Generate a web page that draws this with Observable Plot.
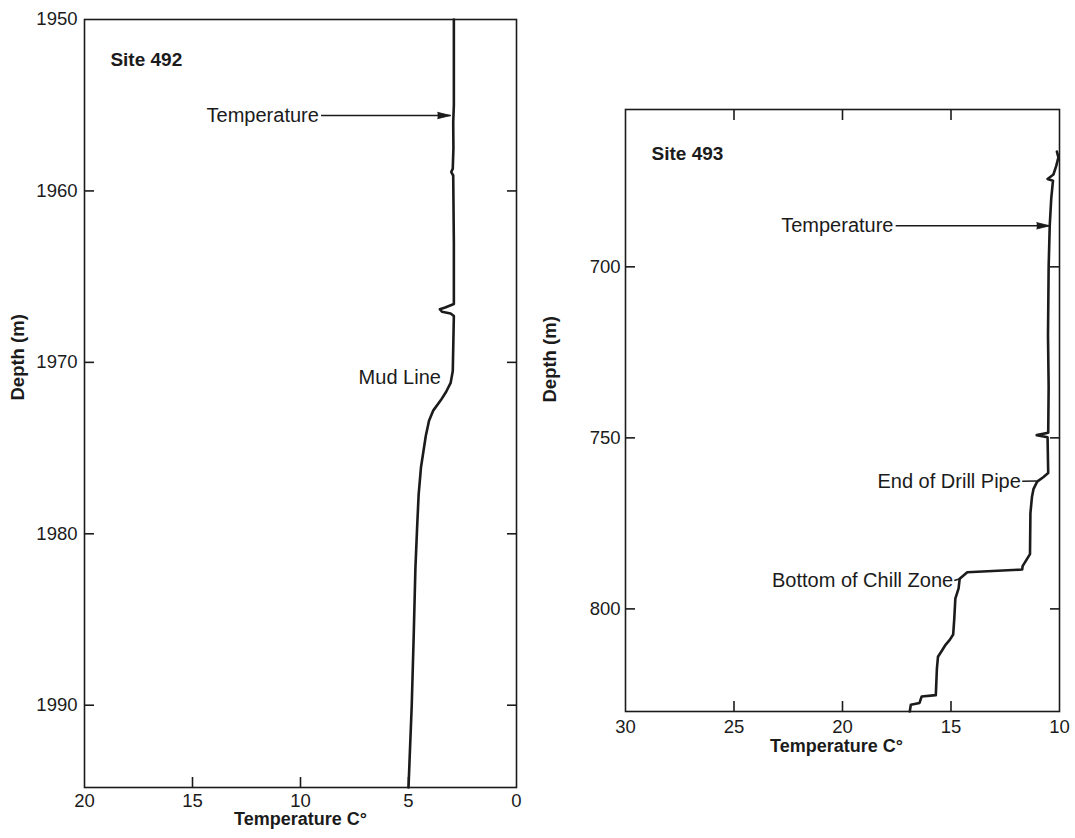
<!DOCTYPE html>
<html><head><meta charset="utf-8">
<script src="https://cdn.jsdelivr.net/npm/d3@7"></script>
<script src="https://cdn.jsdelivr.net/npm/@observablehq/plot@0.6"></script>
<style>
html,body{margin:0;padding:0;background:#fff;}
#wrap{position:relative;width:1075px;height:838px;overflow:hidden;background:#fff;}
#left,#right{position:absolute;top:0;}
#left{left:0;} #right{left:540px;}
</style></head><body><div id="wrap"><div id="left"></div><div id="right"></div></div>
<script>
// ---------- data ----------
// Site 492 temperature log
const site492Depth = [1950, 1955, 1956, 1957.5, 1958.7, 1958.9, 1959.1, 1963, 1966.6, 1966.8, 1966.9, 1967.05, 1967.15, 1967.3, 1970.5, 1971.2, 1971.7, 1972.2, 1972.8, 1973.4, 1974.3, 1976.1, 1977.7, 1979.6, 1982, 1986, 1990, 1994.8];
const site492Temp  = [2.9, 2.9, 2.93, 2.92, 2.95, 3.02, 2.93, 2.9, 2.9, 3.3, 3.55, 3.45, 3.05, 2.9, 2.95, 3.05, 3.25, 3.5, 3.85, 4.05, 4.2, 4.42, 4.53, 4.6, 4.68, 4.76, 4.85, 5.0];
// Site 493 temperature log
const site493Depth = [666.3, 668, 670.5, 673, 674.3, 674.8, 680, 688, 700, 720, 735, 748.5, 749.2, 749.8, 760.3, 761.5, 762.8, 765, 767.3, 772, 784, 787.5, 788.5, 789.3, 791.2, 794, 797, 803, 807.5, 809, 810.5, 812, 814, 817.5, 825.2, 825.6, 827.5, 828, 830];
const site493Temp  = [10.12, 10.05, 10.15, 10.28, 10.55, 10.3, 10.38, 10.45, 10.5, 10.53, 10.5, 10.52, 11.05, 10.55, 10.52, 10.75, 11.03, 11.2, 11.27, 11.34, 11.36, 11.7, 11.72, 14.25, 14.6, 14.65, 14.8, 14.85, 14.9, 15.05, 15.25, 15.4, 15.6, 15.65, 15.7, 16.35, 16.45, 16.85, 16.9];

// axes
const site492DepthDomain = [1950, 1994.8];
const site492TempDomain = [20, 0];
const site492DepthTicks = [1950, 1960, 1970, 1980, 1990];
const site492DepthInnerTicks = [1960, 1970, 1980, 1990];
const site492TempTicks = [20, 15, 10, 5, 0];
const site492TempInnerTicks = [15, 10, 5];

const site493DepthDomain = [654, 830];
const site493TempDomain = [30, 10];
const site493DepthTicks = [700, 750, 800];
const site493TempTicks = [30, 25, 20, 15, 10];
const site493TempInnerTicks = [25, 20, 15];

// annotations (temperature, depth)
const site492Labels = [
  {text: "Site 492", t: 18.8, d: 1952.35, bold: true},
  {text: "Temperature", t: 9.15, d: 1955.6, bold: false},
  {text: "Mud Line", t: 3.5, d: 1970.9, bold: false}
];
const site492Arrows = [{t1: 9.05, t2: 3.05, d: 1955.6}];

const site493Labels = [
  {text: "Site 493", t: 28.8, d: 667.1, bold: true},
  {text: "Temperature", t: 17.65, d: 688.0, bold: false},
  {text: "End of Drill Pipe", t: 11.78, d: 762.7, bold: false},
  {text: "Bottom of Chill Zone", t: 14.9, d: 791.7, bold: false}
];
const site493Arrows = [{t1: 17.55, t2: 10.45, d: 688.0}];
const site493Leaders = [
  {t1: 11.72, d1: 762.7, t2: 11.05, d2: 762.6},
  {t1: 14.85, d1: 791.7, t2: 14.55, d2: 791.1}
];

const axisTitleX = "Temperature C°";
const axisTitleY = "Depth (m)";

// ---------- drawing ----------
const INK = "#1b1b1b";
const FONT = "'Liberation Sans', Arial, Helvetica, sans-serif";
const style = {fontFamily: FONT, fontSize: "18px", color: INK, background: "transparent", overflow: "visible"};
const plain = d => String(d);

function series(depths, temps) { return depths.map((d, i) => ({d, t: temps[i]})); }

function panel(o) {
  const data = series(o.depth, o.temp);
  return Plot.plot({
    width: o.width, height: 838,
    marginLeft: o.ml, marginRight: o.mr, marginTop: o.mt, marginBottom: o.mb,
    x: {domain: o.tDomain},
    y: {domain: o.dDomain, reverse: true},
    style,
    marks: [
      Plot.frame({stroke: INK, strokeWidth: 1.6}),
      Plot.axisY(o.dTicks, {anchor: "left", tickSize: 0, tickPadding: o.yPad, tickFormat: plain, label: null, fontSize: 18.5}),
      Plot.axisY(o.dInner, {anchor: "left", tickSize: -10, tickFormat: () => "", label: null, strokeWidth: 1.6}),
      Plot.axisY(o.dInner, {anchor: "right", tickSize: -10, tickFormat: () => "", label: null, strokeWidth: 1.6}),
      Plot.axisX(o.tTicks, {anchor: "bottom", tickSize: 0, tickPadding: o.xPad, tickFormat: plain, label: null, fontSize: 18.5}),
      Plot.axisX(o.tInner, {anchor: "bottom", tickSize: -10, tickFormat: () => "", label: null, strokeWidth: 1.6}),
      ...(o.topInner ? [Plot.axisX(o.topInner, {anchor: "top", tickSize: -10, tickFormat: () => "", label: null, strokeWidth: 1.6})] : []),
      Plot.line(data, {x: "t", y: "d", stroke: INK, strokeWidth: 2.6, strokeLinejoin: "round"}),
      Plot.link(o.arrows, {x1: "t1", x2: "t2", y1: "d", y2: "d", stroke: INK, strokeWidth: 1.5}),
      Plot.vector(o.arrows, {x: "t2", y: "d", rotate: 90, length: 13, r: 3.2, shape: "spike", anchor: "end", fill: INK, stroke: INK, strokeWidth: 0.8}),
      ...(o.leaders ? [Plot.link(o.leaders, {x1: "t1", y1: "d1", x2: "t2", y2: "d2", stroke: INK, strokeWidth: 1.5})] : []),
      Plot.text(o.labels.filter(l => !l.bold), {x: "t", y: "d", text: "text", textAnchor: "end", fontSize: 20, fill: INK}),
      Plot.text(o.labels.filter(l => l.bold), {x: "t", y: "d", text: "text", textAnchor: "start", fontSize: 19, fontWeight: "bold", fill: INK}),
      Plot.text([axisTitleY], {text: d => d, frameAnchor: "left", rotate: -90, dx: o.yTitleDx, dy: o.yTitleDy, fontWeight: "bold", fontSize: 18.5, fill: INK}),
      Plot.text([axisTitleX], {text: d => d, frameAnchor: "bottom", dx: o.xTitleDx, dy: o.xTitleDy, fontWeight: "bold", fontSize: 18, fill: INK})
    ]
  });
}

document.getElementById("left").append(panel({
  width: 560, ml: 84, mr: 44, mt: 19, mb: 51,
  depth: site492Depth, temp: site492Temp,
  tDomain: site492TempDomain, dDomain: site492DepthDomain,
  dTicks: site492DepthTicks, dInner: site492DepthInnerTicks,
  tTicks: site492TempTicks, tInner: site492TempInnerTicks, topInner: null,
  labels: site492Labels, arrows: site492Arrows, leaders: null,
  yPad: 7, xPad: 6, yTitleDx: -66, yTitleDy: -3, xTitleDx: 0, xTitleDy: 37
}));

document.getElementById("right").append(panel({
  width: 535, ml: 85, mr: 16, mt: 109, mb: 127,
  depth: site493Depth, temp: site493Temp,
  tDomain: site493TempDomain, dDomain: site493DepthDomain,
  dTicks: site493DepthTicks, dInner: site493DepthTicks,
  tTicks: site493TempTicks, tInner: site493TempInnerTicks, topInner: site493TempInnerTicks,
  labels: site493Labels, arrows: site493Arrows, leaders: site493Leaders,
  yPad: 5, xPad: 8, yTitleDx: -75, yTitleDy: -8, xTitleDx: -6, xTitleDy: 40
}));
</script></body></html>
